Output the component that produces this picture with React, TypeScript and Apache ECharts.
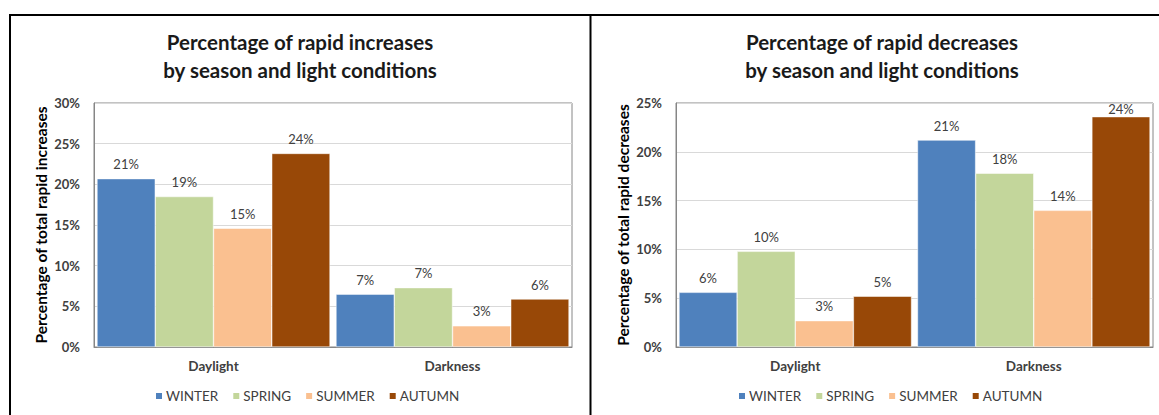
import React, { useEffect, useRef } from "react";
import * as echarts from "echarts";

const categories = ["Daylight", "Darkness"];
const seasons = ["WINTER", "SPRING", "SUMMER", "AUTUMN"];
const seasonColors = ["#4f81bd", "#c3d69b", "#fac090", "#984807"];

// Percentage of rapid increases [Daylight, Darkness]
const incWinter = [20.7, 6.5];
const incSpring = [18.5, 7.3];
const incSummer = [14.6, 2.6];
const incAutumn = [23.8, 5.9];

// Percentage of rapid decreases [Daylight, Darkness]
const decWinter = [5.6, 21.2];
const decSpring = [9.8, 17.8];
const decSummer = [2.7, 14.0];
const decAutumn = [5.2, 23.6];

const incTicks = { min: 0, max: 30, interval: 5 };
const decTicks = { min: 0, max: 25, interval: 5 };

const FONT = "Lato, 'Open Sans', sans-serif";
const TXT = "#404040";

export default function App() {
  const ref = useRef<HTMLDivElement>(null);

  useEffect(() => {
    if (!ref.current) return;
    const chart = echarts.init(ref.current, undefined, { renderer: "svg" });

    const incData = [incWinter, incSpring, incSummer, incAutumn];
    const decData = [decWinter, decSpring, decSummer, decAutumn];

    const mkSeries = (data: number[][], idx: number) =>
      data.map((vals, i) => ({
        name: seasons[i],
        type: "bar",
        xAxisIndex: idx,
        yAxisIndex: idx,
        barGap: "0%",
        barCategoryGap: "2.5%",
        itemStyle: { color: seasonColors[i], borderColor: "#ffffff", borderWidth: 0.5 },
        label: {
          show: true,
          position: "top",
          distance: 8,
          fontFamily: FONT,
          fontSize: 13,
          color: TXT,
          formatter: (p: any) => Math.round(p.value) + "%",
        },
        data: vals.map((v) =>
          idx === 1 && v > 23 ? { value: v, label: { distance: 1 } } : v
        ),
      }));

    const grids = [
      { left: 94, top: 103, width: 478, height: 244 },
      { left: 676, top: 103, width: 477, height: 244 },
    ];

    const mkY = (ticks: any, name: string, idx: number) => ({
      type: "value",
      gridIndex: idx,
      min: ticks.min,
      max: ticks.max,
      interval: ticks.interval,
      name,
      nameLocation: "middle",
      nameRotate: 90,
      nameGap: 45,
      nameTextStyle: { fontFamily: FONT, fontSize: 15.5, fontWeight: "bold", color: "#000" },
      axisLine: { show: true, lineStyle: { color: "#868686" } },
      axisTick: { show: false },
      axisLabel: {
        formatter: "{value}%",
        fontFamily: FONT,
        fontSize: 13,
        fontWeight: "bold",
        color: TXT,
        margin: 14,
      },
      splitLine: { lineStyle: { color: "#d9d9d9" } },
    });

    const mkX = (idx: number) => ({
      type: "category",
      gridIndex: idx,
      data: categories,
      axisLine: { lineStyle: { color: "#868686" } },
      axisTick: { show: false },
      axisLabel: { fontFamily: FONT, fontSize: 13.5, fontWeight: "bold", color: TXT, margin: 12 },
    });

    const mkLegend = (left: number) => ({
      left,
      top: 389,
      padding: 0,
      icon: "rect",
      itemWidth: 8,
      itemHeight: 8,
      itemGap: 13,
      textStyle: { fontFamily: FONT, fontSize: 13.5, color: TXT, padding: [0, 0, 0, -2] },
      data: seasons,
    });

    const titleStyle = {
      fontFamily: FONT,
      fontSize: 20.5,
      fontWeight: "bold",
      color: "#1a1a1a",
      lineHeight: 28,
    };

    chart.setOption({
      animation: false,
      backgroundColor: "#ffffff",
      title: [
        {
          text: "Percentage of rapid increases\nby season and light conditions",
          left: 300,
          top: 28,
          padding: 0,
          textAlign: "center",
          textStyle: titleStyle,
        },
        {
          text: "Percentage of rapid decreases\nby season and light conditions",
          left: 882,
          top: 28,
          padding: 0,
          textAlign: "center",
          textStyle: titleStyle,
        },
      ],
      legend: [mkLegend(154), mkLegend(737)],
      grid: grids.map((g) => ({ ...g, show: true, borderColor: "#868686", borderWidth: 1, backgroundColor: "transparent" })),
      xAxis: [mkX(0), mkX(1)],
      yAxis: [
        mkY(incTicks, "Percentage of total rapid increases", 0),
        mkY(decTicks, "Percentage of total rapid decreases", 1),
      ],
      series: [...mkSeries(incData, 0), ...mkSeries(decData, 1)],
      graphic: [
        { type: "line", shape: { x1: 9, y1: 15, x2: 1159, y2: 15 }, style: { stroke: "#000", lineWidth: 2 } },
        { type: "line", shape: { x1: 10, y1: 14, x2: 10, y2: 415 }, style: { stroke: "#000", lineWidth: 2 } },
        { type: "line", shape: { x1: 590.5, y1: 14, x2: 590.5, y2: 415 }, style: { stroke: "#000", lineWidth: 2 } },
      ],
    });

    return () => chart.dispose();
  }, []);

  return (
    <div
      ref={ref}
      style={{ position: "fixed", left: 0, top: 0, width: 1159, height: 415, background: "#fff" }}
    />
  );
}
